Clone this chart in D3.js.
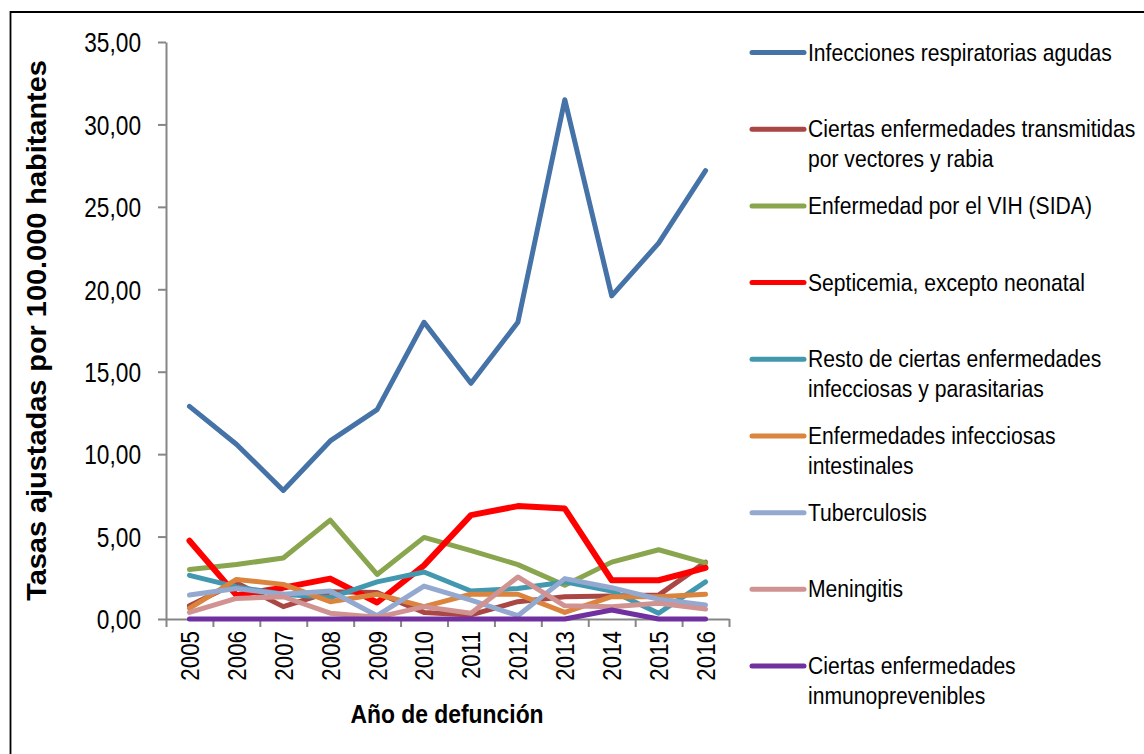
<!DOCTYPE html>
<html>
<head>
<meta charset="utf-8">
<script src="https://cdn.jsdelivr.net/npm/d3@7"></script>
<style>
  html, body { margin: 0; padding: 0; background: #ffffff; }
  svg { display: block; }
  text { font-family: "Liberation Sans", Arial, sans-serif; fill: #000; }
</style>
</head>
<body>
<svg id="chart" width="1144" height="754"></svg>
<script>
// Años de defunción
const years = ["2005", "2006", "2007", "2008", "2009", "2010", "2011", "2012", "2013", "2014", "2015", "2016"];

// Tasas ajustadas por 100.000 habitantes, por grupo de causas
const infeccionesRespiratorias = [12.9, 10.6, 7.8, 10.8, 12.7, 18.0, 14.3, 18.0, 31.5, 19.6, 22.8, 27.2];
const vectoresRabia = [0.8, 2.2, 0.75, 1.65, 1.6, 0.4, 0.25, 1.05, 1.35, 1.4, 1.45, 3.45];
const vihSida = [3.0, 3.3, 3.7, 6.0, 2.7, 4.95, 4.15, 3.3, 2.05, 3.45, 4.2, 3.4];
const septicemia = [4.75, 1.45, 1.9, 2.45, 1.0, 3.25, 6.3, 6.85, 6.7, 2.35, 2.35, 3.1];
const restoInfecciosas = [2.65, 1.95, 1.5, 1.3, 2.25, 2.85, 1.7, 1.85, 2.25, 1.7, 0.35, 2.25];
const intestinales = [0.65, 2.4, 2.1, 1.05, 1.5, 0.75, 1.5, 1.5, 0.4, 1.35, 1.35, 1.5];
const tuberculosis = [1.45, 1.85, 1.5, 1.7, 0.2, 2.0, 1.15, 0.2, 2.45, 1.9, 1.2, 0.85];
const meningitis = [0.4, 1.25, 1.35, 0.35, 0.1, 0.75, 0.35, 2.55, 0.8, 0.75, 0.95, 0.6];
const inmunoprevenibles = [0, 0, 0, 0, 0, 0, 0, 0, 0, 0.55, 0, 0];

const yTicks = [0, 5, 10, 15, 20, 25, 30, 35];

const seriesNames = [
  ["Infecciones respiratorias agudas"],
  ["Ciertas enfermedades transmitidas", "por vectores y rabia"],
  ["Enfermedad por el VIH (SIDA)"],
  ["Septicemia, excepto neonatal"],
  ["Resto de ciertas enfermedades", "infecciosas y parasitarias"],
  ["Enfermedades infecciosas", "intestinales"],
  ["Tuberculosis"],
  ["Meningitis"],
  ["Ciertas enfermedades", "inmunoprevenibles"]
];
const seriesValues = [infeccionesRespiratorias, vectoresRabia, vihSida, septicemia,
  restoInfecciosas, intestinales, tuberculosis, meningitis, inmunoprevenibles];
const seriesColors = ["#4572A7", "#AA4643", "#89A54E", "#FF0000", "#4198AF",
  "#DB843D", "#93A9CF", "#D19392", "#7030A0"];
const seriesWidths = [5, 5, 5, 6, 5, 5, 5, 5, 5];

const series = seriesNames.map((name, i) => ({
  name, color: seriesColors[i], width: seriesWidths[i],
  values: seriesValues[i].map((v, j) => ({ year: years[j], value: v }))
}));

// estrecha el texto a lo largo de su dirección (tipografía condensada)
function condense(sel, factor) {
  sel.each(function () {
    const len = this.getComputedTextLength();
    d3.select(this).attr("textLength", len * factor).attr("lengthAdjust", "spacingAndGlyphs");
  });
}

const svg = d3.select("#chart");
svg.append("rect").attr("width", 1144).attr("height", 754).attr("fill", "#fff");

// marco exterior
svg.append("path")
  .attr("d", "M10.5,754 V12 H1144")
  .attr("fill", "none").attr("stroke", "#000").attr("stroke-width", 1.8);

const plot = { left: 166, right: 729, top: 42, bottom: 619 };

const x = d3.scaleBand().domain(years).range([plot.left, plot.right]).padding(0);
const xEdges = d3.scaleLinear().domain([0, years.length]).range([plot.left, plot.right]);
const y = d3.scaleLinear().domain([0, 35]).range([plot.bottom, plot.top]);

const fmt = d => d3.format(".2f")(d).replace(".", ",");
const axisColor = "#868686";

// eje Y
const yAxis = svg.append("g")
  .attr("transform", `translate(${plot.left},0)`)
  .call(d3.axisLeft(y).tickValues(yTicks).tickFormat(fmt).tickSize(8).tickSizeOuter(0).tickPadding(17));
yAxis.select(".domain").attr("stroke", axisColor).attr("stroke-width", 2);
yAxis.selectAll(".tick line").attr("stroke", axisColor).attr("stroke-width", 2);
yAxis.selectAll(".tick text")
  .style("font-size", "27px").style("font-family", "'Liberation Sans', Arial, sans-serif")
  .attr("fill", "#000").attr("dy", "0.36em")
  .call(condense, 0.84);

// eje X: marcas entre categorías
const xTickAxis = svg.append("g")
  .attr("transform", `translate(0,${plot.bottom})`)
  .call(d3.axisBottom(xEdges).tickValues(d3.range(years.length + 1)).tickFormat("").tickSize(8).tickSizeOuter(0));
xTickAxis.select(".domain").attr("stroke", axisColor).attr("stroke-width", 2);
xTickAxis.selectAll(".tick line").attr("stroke", axisColor).attr("stroke-width", 2);

// eje X: etiquetas de año, giradas
const xLabelAxis = svg.append("g")
  .attr("transform", `translate(0,${plot.bottom})`)
  .call(d3.axisBottom(x).tickSize(0).tickPadding(0));
xLabelAxis.select(".domain").remove();
xLabelAxis.selectAll(".tick text")
  .style("font-size", "26px").style("font-family", "'Liberation Sans', Arial, sans-serif")
  .attr("fill", "#000")
  .attr("text-anchor", "end")
  .attr("transform", "translate(0,12) rotate(-90)")
  .attr("x", 0).attr("y", 0).attr("dy", "0.36em")
  .call(condense, 0.86);

// títulos de ejes
svg.append("text")
  .attr("x", 447).attr("y", 723)
  .attr("text-anchor", "middle")
  .style("font-size", "26px").style("font-weight", "bold")
  .text("Año de defunción")
  .call(condense, 0.88);

svg.append("text")
  .attr("transform", `translate(46,${(plot.top + plot.bottom) / 2}) rotate(-90)`)
  .attr("text-anchor", "middle")
  .style("font-size", "27px").style("font-weight", "bold")
  .text("Tasas ajustadas por 100.000 habitantes")
  .call(condense, 1.07);

// líneas
const line = d3.line()
  .x(d => x(d.year) + x.bandwidth() / 2)
  .y(d => y(d.value));

svg.append("g").selectAll("path")
  .data(series)
  .join("path")
  .attr("d", d => line(d.values))
  .attr("fill", "none")
  .attr("stroke", d => d.color)
  .attr("stroke-width", d => d.width)
  .attr("stroke-linejoin", "round")
  .attr("stroke-linecap", "round");

// leyenda
const legendY = d3.scaleLinear().domain([0, series.length - 1]).range([52.5, 666]);
const legend = svg.append("g").selectAll("g")
  .data(series)
  .join("g")
  .attr("transform", (d, i) => `translate(0,${legendY(i)})`);

legend.append("line")
  .attr("x1", 752).attr("x2", 804)
  .attr("stroke", d => d.color)
  .attr("stroke-width", 5)
  .attr("stroke-linecap", "round");

// texto de la leyenda, estrechado con una escala horizontal
legend.selectAll("text")
  .data(d => d.name)
  .join("text")
  .attr("transform", (d, i) => `translate(808,${8 + i * 30}) scale(0.88,1)`)
  .style("font-size", "24px")
  .text(d => d);
</script>
</body>
</html>
